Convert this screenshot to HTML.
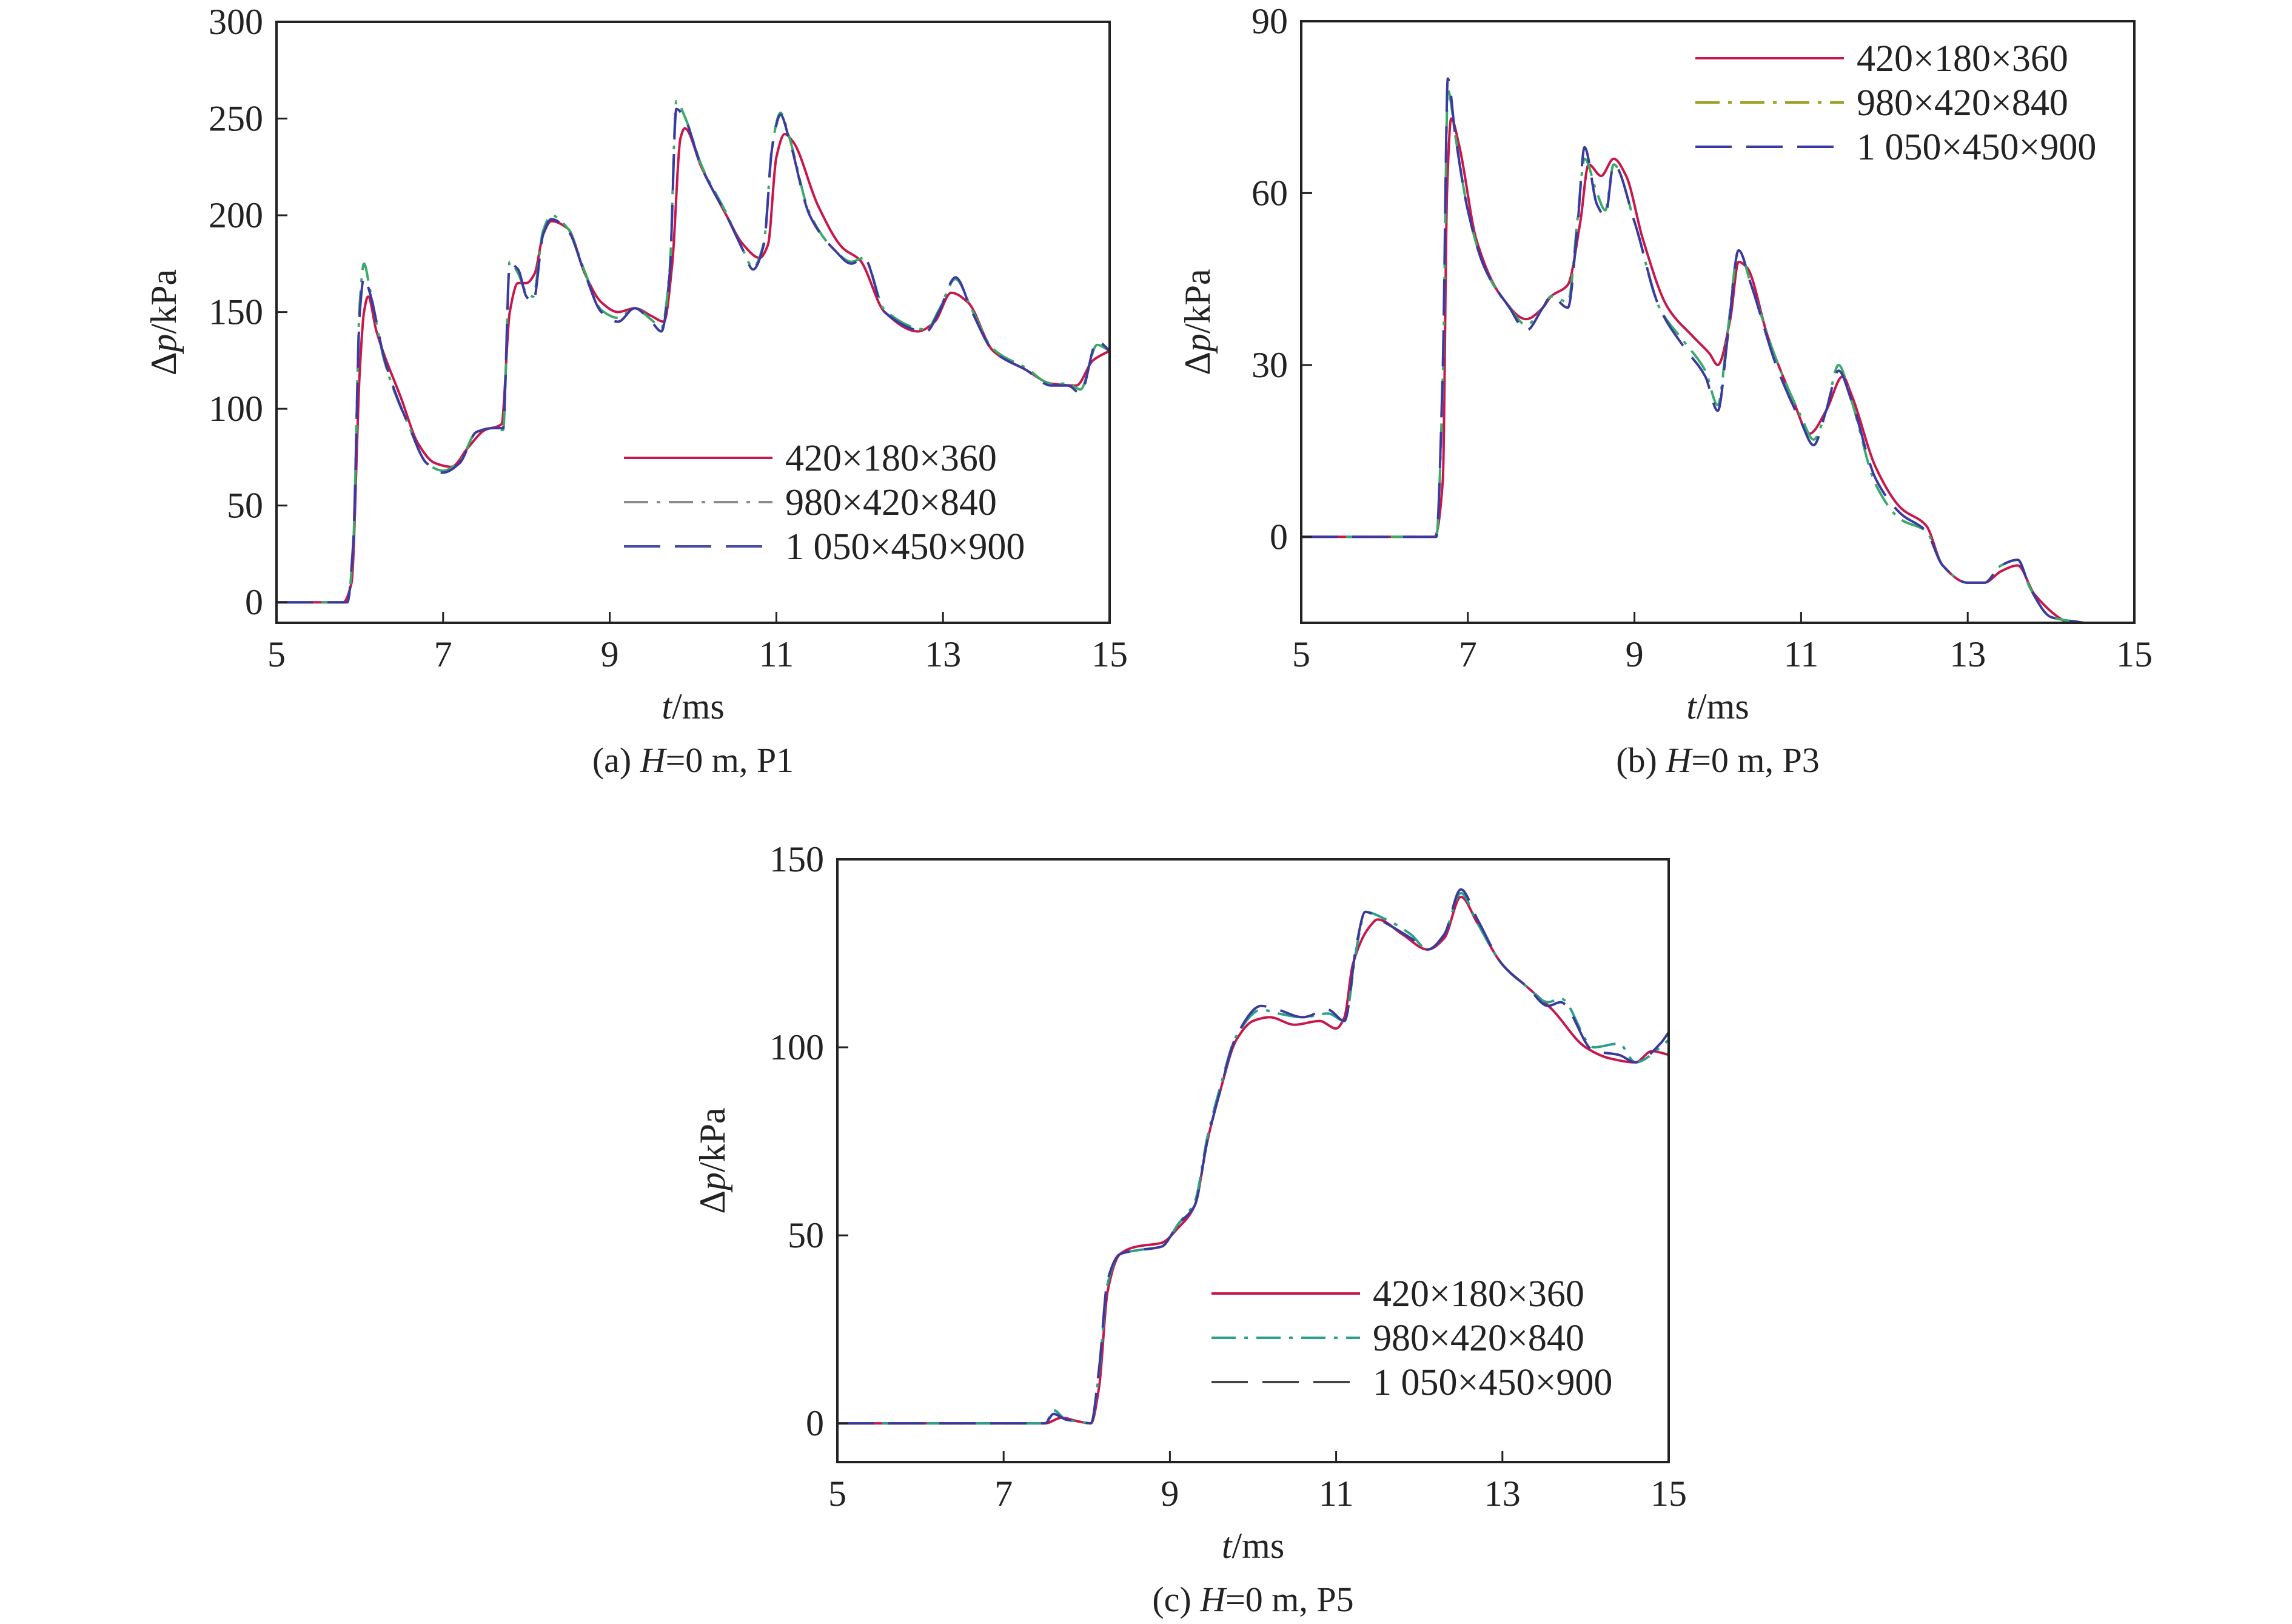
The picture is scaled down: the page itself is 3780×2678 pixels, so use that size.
<!DOCTYPE html>
<html><head><meta charset="utf-8">
<style>
html,body{margin:0;padding:0;background:#fff;}
svg{display:block;font-family:"Liberation Serif",serif;}
</style></head>
<body>
<svg id="fig" width="3780" height="2678" viewBox="0 0 3780 2678" xmlns="http://www.w3.org/2000/svg"></svg>
<script>
// Panel (a) P1
const tA_red=[5,5.8,5.9,6.0,6.05,6.1,6.2,6.5,6.7,6.9,7.1,7.3,7.5,7.7,7.8,7.9,8.0,8.1,8.2,8.3,8.5,8.7,8.9,9.1,9.3,9.5,9.65,9.75,9.85,9.9,10.1,10.4,10.6,10.8,10.9,11.0,11.1,11.2,11.5,11.8,12.0,12.3,12.7,12.9,13.1,13.3,13.6,14.0,14.3,14.6,14.8,15];
const pA_red=[0,0,10,120,150,158,140,105,82,72,70,80,89,92,150,165,165,170,190,197,193,170,155,150,152,148,145,175,240,245,225,200,185,178,185,230,242,238,205,183,177,150,140,145,160,155,130,120,113,112,125,130];
const tA_blue=[5,5.85,5.92,6.0,6.05,6.12,6.3,6.6,6.8,7.0,7.2,7.4,7.6,7.72,7.8,7.9,8.0,8.08,8.2,8.3,8.5,8.7,8.9,9.1,9.3,9.5,9.62,9.72,9.8,9.9,10.1,10.4,10.6,10.72,10.85,10.95,11.05,11.15,11.4,11.7,11.9,12.05,12.3,12.8,12.95,13.15,13.35,13.6,14.0,14.3,14.5,14.65,14.85,15];
const pA_blue=[0,0,30,150,168,160,125,90,72,67,72,88,90,90,175,172,158,155,190,198,192,170,150,145,152,145,140,170,255,250,225,200,182,172,185,235,252,240,200,182,175,178,150,140,150,168,150,130,120,112,112,108,135,130];
const tA_green=tA_blue;
const pA_green=[0,0,28,155,175,162,124,90,72,68,73,88,90,89,176,170,160,158,192,200,193,171,151,147,152,146,142,172,259,251,226,201,182,173,186,236,253,241,201,182,176,178,151,141,151,167,151,131,121,113,113,110,133,130];
// Panel (b) P3
const tB_red=[5,6.6,6.7,6.75,6.8,6.9,7.1,7.4,7.7,7.9,8.0,8.2,8.35,8.45,8.6,8.75,8.9,9.1,9.4,9.7,9.9,10.0,10.15,10.25,10.35,10.6,10.9,11.1,11.3,11.5,11.6,11.9,12.2,12.5,12.7,13.0,13.2,13.4,13.6,13.8,14.2,14.4];
const pB_red=[0,0,10,60,73,68,52,42,38,40,42,44,55,65,63,66,63,52,40,35,32,30,38,48,47,35,24,18,22,28,25,12,5,2,-5,-8,-8,-6,-5,-10,-15,-16];
const tB_blue=[5,6.62,6.7,6.76,6.85,7.0,7.2,7.5,7.7,7.9,8.0,8.2,8.32,8.4,8.55,8.65,8.75,9.0,9.3,9.6,9.85,10.0,10.12,10.25,10.4,10.7,11.0,11.15,11.3,11.45,11.6,11.9,12.2,12.5,12.7,13.0,13.2,13.4,13.6,13.75,14.0,14.4];
const pB_blue=[0,0,30,80,70,57,47,40,36,40,42,40,55,68,58,56,65,55,40,33,28,22,35,50,44,30,20,16,22,29,24,10,4,1,-5,-8,-8,-5,-4,-9,-14,-15];
const tB_green=tB_blue;
const pB_green=[0,0,28,78,70,57,47,40,37,40,42,41,56,66,60,57,65,55,40,34,29,23,36,50,44,31,21,17,22,30,24,9,3,1,-5,-8,-8,-5,-4,-9,-14,-15];
// Panel (c) P5
const tC_red=[5,7.5,7.7,7.9,8.05,8.15,8.25,8.4,8.6,8.9,9.1,9.3,9.45,9.6,9.8,10.0,10.2,10.5,10.8,11.0,11.1,11.2,11.4,11.5,11.8,12.1,12.3,12.5,12.7,13.0,13.3,13.6,14.0,14.3,14.6,14.8,15];
const pC_red=[0,0,1.5,0.5,0,10,35,45,47,48,52,58,75,88,102,107,108,106,107,105,108,122,132,134,130,126,129,140,133,122,116,110,100,97,96,99,98];
const tC_blue=[5,7.5,7.6,7.75,7.9,8.05,8.15,8.25,8.4,8.6,8.9,9.1,9.3,9.45,9.6,9.8,10.1,10.3,10.6,10.9,11.1,11.25,11.35,11.6,11.9,12.1,12.3,12.5,12.7,13.0,13.3,13.55,13.7,14.1,14.4,14.6,14.9,15];
const pC_blue=[0,0,2.5,1,0.5,0,15,38,45,46,47,53,58,75,88,103,111,110,108,110,107,128,136,133,129,126,130,142,134,122,116,111,112,99,98,96,101,104];
const tC_green=tC_blue;
const pC_green=[0,0,3.5,1,0.5,0,14,37,45,46,47,53,59,76,89,103,110,109,108,109,107,127,136,134,130,126,130,141,133,122,116,112,113,100,101,96,100,102];
const legendLabels=["420×180×360","980×420×840","1 050×450×900"];

const NS="http://www.w3.org/2000/svg";
const svg=document.getElementById('fig');
function mk(tag,attrs,parent){const e=document.createElementNS(NS,tag);for(const k in attrs)e.setAttribute(k,attrs[k]);(parent||svg).appendChild(e);return e;}
// monotone cubic (Fritsch-Carlson) in screen coords
function smoothPath(pts){
  const n=pts.length;const dx=[],m=[],s=[];
  for(let i=0;i<n-1;i++){dx[i]=pts[i+1][0]-pts[i][0];s[i]=(pts[i+1][1]-pts[i][1])/dx[i];}
  m[0]=s[0];m[n-1]=s[n-2];
  for(let i=1;i<n-1;i++){
    if(s[i-1]*s[i]<=0)m[i]=0;
    else{const w1=2*dx[i]+dx[i-1],w2=dx[i]+2*dx[i-1];m[i]=(w1+w2)/(w1/s[i-1]+w2/s[i]);}
  }
  let d="M"+pts[0][0].toFixed(1)+","+pts[0][1].toFixed(1);
  for(let i=0;i<n-1;i++){
    const h=dx[i]/3;
    d+="C"+(pts[i][0]+h).toFixed(1)+","+(pts[i][1]+m[i]*h).toFixed(1)+" "+(pts[i+1][0]-h).toFixed(1)+","+(pts[i+1][1]-m[i+1]*h).toFixed(1)+" "+pts[i+1][0].toFixed(1)+","+pts[i+1][1].toFixed(1);
  }
  return d;
}
function panel(cfg){
  const g=mk('g',{});
  
  
  const xs=t=>cfg.L+(t-5)/10*(cfg.R-cfg.L);
  const ys=p=>cfg.B-(p-cfg.ymin)/(cfg.ymax-cfg.ymin)*(cfg.B-cfg.T);
  const clip='clip-'+cfg.name;
  const cp=mk('clipPath',{id:clip},g);
  mk('rect',{x:cfg.L,y:cfg.T,width:cfg.R-cfg.L,height:cfg.B-cfg.T},cp);
  cfg.series.forEach(s=>{
    const pts=s.t.map((t,i)=>[xs(t),ys(s.p[i])]);
    const path=mk('path',{d:smoothPath(pts),fill:'none',stroke:s.color,'stroke-width':4,'stroke-dasharray':s.dash||'none','clip-path':'url(#'+clip+')'},g);
    
    
  });
  const fr=mk('rect',{x:cfg.L,y:cfg.T,width:cfg.R-cfg.L,height:cfg.B-cfg.T,fill:'none',stroke:'#222','stroke-width':4},g);
  
  
  [5,7,9,11,13,15].forEach(v=>{
    const x=xs(v);
    mk('line',{x1:x,x2:x,y1:cfg.B,y2:cfg.B-18,stroke:'#222','stroke-width':3},g);
    const tx=mk('text',{x:x,y:cfg.B+72,'font-size':60,'text-anchor':'middle',fill:'#222'},g);
    tx.textContent=v;
    
    
  });
  cfg.yticks.forEach(v=>{
    const y=ys(v);
    mk('line',{x1:cfg.L,x2:cfg.L+18,y1:y,y2:y,stroke:'#222','stroke-width':3},g);
    const tx=mk('text',{x:cfg.L-22,y:y+20,'font-size':60,'text-anchor':'end',fill:'#222'},g);
    tx.textContent=v;
    
    
  });
  const xl=mk('text',{x:(cfg.L+cfg.R)/2,y:cfg.B+158,'font-size':60,'text-anchor':'middle',fill:'#222'},g);
  xl.innerHTML='<tspan font-style="italic">t</tspan>/ms';
  
  
  const yl=mk('text',{x:cfg.ylx,y:(cfg.T+cfg.B)/2,'font-size':60,'text-anchor':'middle',fill:'#222',transform:'rotate(-90 '+cfg.ylx+' '+(cfg.T+cfg.B)/2+')'},g);
  yl.innerHTML='Δ<tspan font-style="italic">p</tspan>/kPa';
  
  
  const cap=mk('text',{x:(cfg.L+cfg.R)/2,y:cfg.B+246,'font-size':58,'text-anchor':'middle',fill:'#222'},g);
  cap.innerHTML=cfg.capPre+'<tspan font-style="italic">H</tspan>=0 m, '+cfg.capPt;
  
  
  cfg.series.forEach((s,i)=>{
    const y=cfg.legY+i*73;
    const ln=mk('line',{x1:cfg.legX,x2:cfg.legX+245,y1:y,y2:y,stroke:s.legColor||s.color,'stroke-width':4,'stroke-dasharray':s.dash||'none'},g);
    
    
    const tx=mk('text',{x:cfg.legX+266,y:y+21,'font-size':62,fill:'#222'},g);
    tx.textContent=legendLabels[i];
    
    
  });
}
const DD='40,14,6,14', DS='60,24';
panel({name:'panel-a',L:456,R:1830,T:36,B:1027,ymin:-10.6,ymax:300,yticks:[0,50,100,150,200,250,300],ylx:290,legX:1029,legY:755,capPre:'(a) ',capPt:'P1',
  series:[{id:'series-420',t:tA_red,p:pA_red,color:'#c8174a'},
          {id:'series-980',t:tA_green,p:pA_green,color:'#3aaa6a',legColor:'#8a8a8a',dash:DD},
          {id:'series-1050',t:tA_blue,p:pA_blue,color:'#3a3aa0',legColor:'#4a4aa8',dash:DS}]});
panel({name:'panel-b',L:2146,R:3520,T:35,B:1027,ymin:-15,ymax:90,yticks:[0,30,60,90],ylx:1995,legX:2796,legY:96,capPre:'(b) ',capPt:'P3',
  series:[{id:'series-420',t:tB_red,p:pB_red,color:'#c8174a'},
          {id:'series-980',t:tB_green,p:pB_green,color:'#3aaa6a',legColor:'#9aa020',dash:DD},
          {id:'series-1050',t:tB_blue,p:pB_blue,color:'#3a3aa0',legColor:'#3a3aa0',dash:DS}]});
panel({name:'panel-c',L:1381,R:2752,T:1417,B:2411,ymin:-10.3,ymax:150,yticks:[0,50,100,150],ylx:1195,legX:1998,legY:2133,capPre:'(c) ',capPt:'P5',
  series:[{id:'series-420',t:tC_red,p:pC_red,color:'#c8174a'},
          {id:'series-980',t:tC_green,p:pC_green,color:'#2aa08a',legColor:'#2aa08a',dash:DD},
          {id:'series-1050',t:tC_blue,p:pC_blue,color:'#3a3a9a',legColor:'#444',dash:DS}]});
</script>
</body></html>
